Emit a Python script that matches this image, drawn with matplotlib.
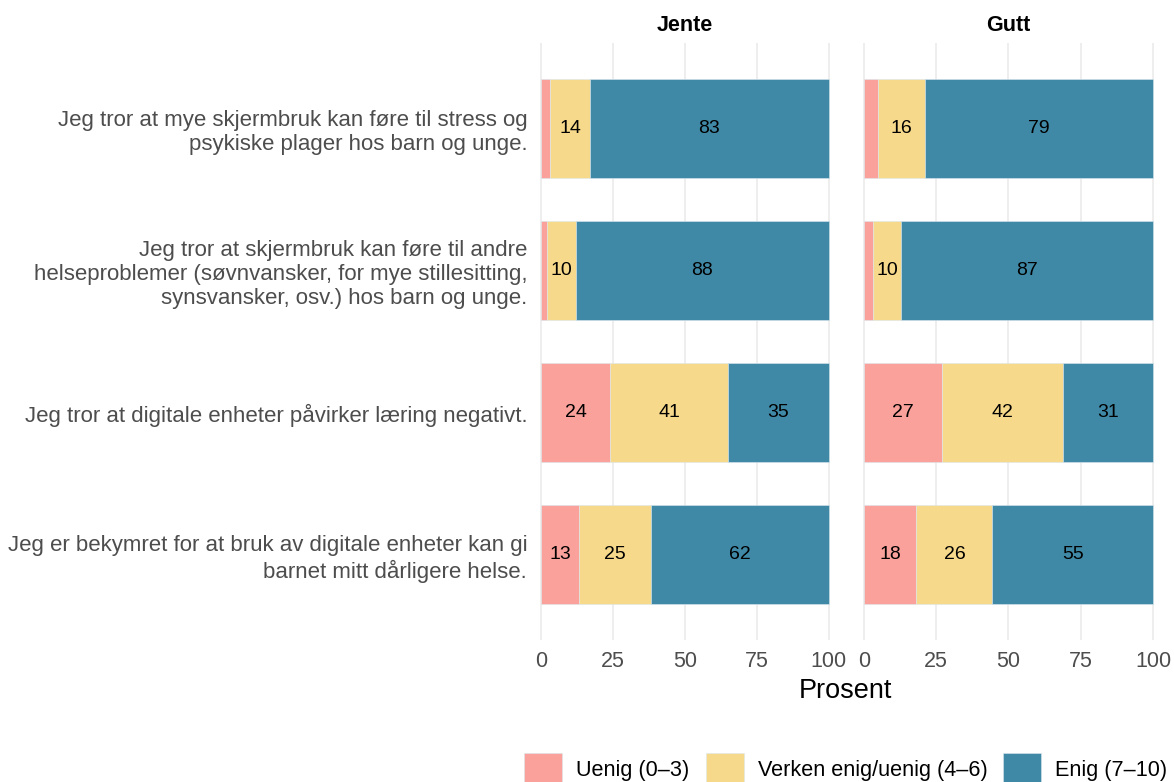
import matplotlib.pyplot as plt
import numpy as np

plt.rcParams['font.family'] = ['Liberation Sans', 'DejaVu Sans']

statements = [
    "Jeg tror at mye skjermbruk kan føre til stress og\npsykiske plager hos barn og unge.",
    "Jeg tror at skjermbruk kan føre til andre\nhelseproblemer (søvnvansker, for mye stillesitting,\nsynsvansker, osv.) hos barn og unge.",
    "Jeg tror at digitale enheter påvirker læring negativt.",
    "Jeg er bekymret for at bruk av digitale enheter kan gi\nbarnet mitt dårligere helse.",
]
panels = ["Jente", "Gutt"]
categories = ["Uenig (0–3)", "Verken enig/uenig (4–6)", "Enig (7–10)"]
colors = ["#F9A19A", "#F7D98B", "#3F89A7"]

jente_uenig = [3, 2, 24, 13]
jente_verken = [14, 10, 41, 25]
jente_enig = [83, 88, 35, 62]
gutt_uenig = [5, 3, 27, 18]
gutt_verken = [16, 10, 42, 26]
gutt_enig = [79, 87, 31, 55]

data = {
    "Jente": [jente_uenig, jente_verken, jente_enig],
    "Gutt": [gutt_uenig, gutt_verken, gutt_enig],
}

fig = plt.figure(figsize=(11.74, 7.82), dpi=100)
ax1 = fig.add_axes([0.449, 0.1816, 0.269, 0.763])
ax2 = fig.add_axes([0.7235, 0.1816, 0.271, 0.763])

ypos = np.arange(len(statements))
for ax, panel in zip([ax1, ax2], panels):
    vals_all = np.array(data[panel], dtype=float)
    shares = vals_all / vals_all.sum(axis=0) * 100  # stacked to 100 %
    left = np.zeros(len(statements))
    for vals, shr, cat, col in zip(vals_all, shares, categories, colors):
        ax.barh(ypos, shr, left=left, height=0.7, color=col, label=cat,
                edgecolor='#DCE8EE', linewidth=0.4, zorder=2)
        for y, l, v, s in zip(ypos, left, vals, shr):
            if v >= 10:
                ax.text(l + s / 2, y, f"{v:.0f}", ha='center', va='center',
                        fontsize=14, color='black', zorder=3)
        left += shr
    ax.set_xlim(-5, 105)
    ax.set_ylim(len(statements) - 0.4, -0.6)
    ax.set_xticks([0, 25, 50, 75, 100])
    ax.set_xticklabels(['0', '25', '50', '75', '100'])
    ax.tick_params(axis='x', length=0, labelsize=15.5, labelcolor='#4D4D4D', pad=8)
    ax.tick_params(axis='y', length=0)
    ax.grid(axis='x', color='#EBEBEB', linewidth=1.2, zorder=0)
    for s in ax.spines.values():
        s.set_visible(False)
    ax.set_title(panel, fontsize=15.5, fontweight='bold', pad=9)

ax1.set_yticks(ypos)
ax1.set_yticklabels(statements, fontsize=16.0, color='#4D4D4D', ha='right')
ax1.tick_params(axis='y', pad=0)
ax2.set_yticks([])

fig.text(0.72, 0.117, "Prosent", ha='center', va='center', fontsize=19.5)

handles, labels = ax1.get_legend_handles_labels()
fig.legend(handles, labels, loc='center', bbox_to_anchor=(0.7206, 0.016), ncol=3,
           frameon=False, fontsize=15.6, handlelength=1.75, handleheight=2.0,
           columnspacing=0.74, handletextpad=0.65)

fig.savefig("out.png", dpi=100)
